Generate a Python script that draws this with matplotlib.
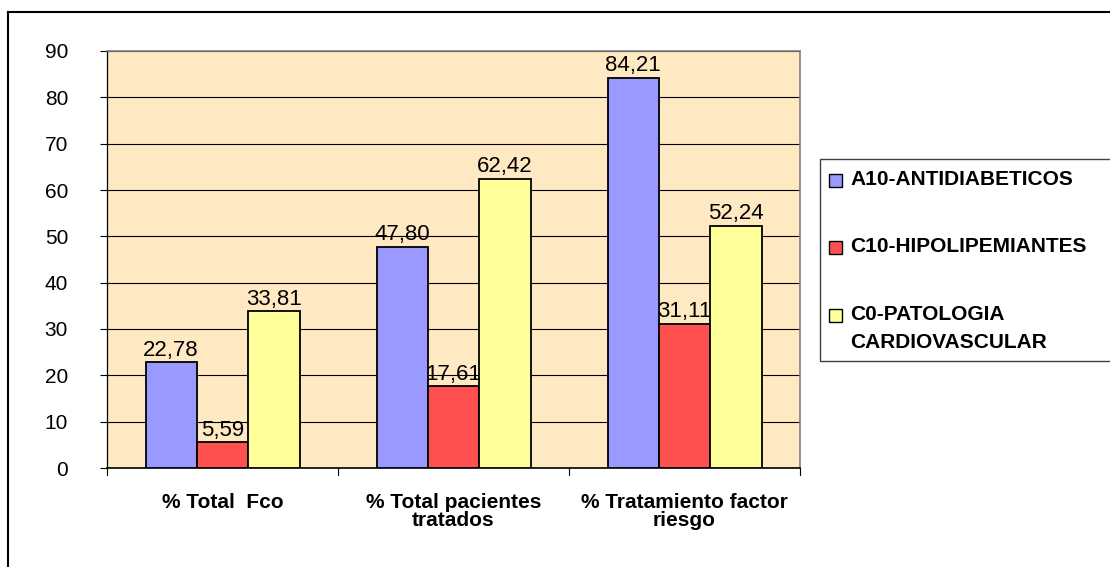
import matplotlib.pyplot as plt
import numpy as np
from matplotlib.lines import Line2D
from matplotlib.patches import Rectangle

plt.rcParams['font.family'] = ['Liberation Sans', 'DejaVu Sans']

categories = ['% Total  Fco', '% Total pacientes\ntratados', '% Tratamiento factor\nriesgo']
series_names = ['A10-ANTIDIABETICOS', 'C10-HIPOLIPEMIANTES', 'C0-PATOLOGIA\nCARDIOVASCULAR']
a10 = [22.78, 47.80, 84.21]
c10 = [5.59, 17.61, 31.11]
c0 = [33.81, 62.42, 52.24]
colors = ['#9999FF', '#FF5050', '#FFFF99']

W, H = 1110, 567
fig = plt.figure(figsize=(W / 100, H / 100), dpi=100)
ax = fig.add_axes([107 / W, 1 - 468 / H, (800 - 107) / W, (468 - 51) / H])
ax.set_facecolor('#FFE9C2')

x = np.arange(len(categories))
w = 1 / 4.5
for i, (vals, col) in enumerate(zip([a10, c10, c0], colors)):
    bars = ax.bar(x + (i - 1) * w, vals, w, color=col, edgecolor='black', linewidth=1.3, zorder=3)
    for b, v in zip(bars, vals):
        ax.text(b.get_x() + b.get_width() / 2, v + 1.4, f'{v:.2f}'.replace('.', ','),
                ha='center', va='baseline', fontsize=16, zorder=4)

ax.set_xlim(-0.5, len(categories) - 0.5)
ax.set_ylim(0, 90)
ax.set_yticks(range(0, 91, 10))
ax.yaxis.grid(True, color='black', linewidth=0.8, zorder=0)
ax.tick_params(axis='y', labelsize=15, length=5, width=0.8, pad=23)
ax.set_xticks(x)
ax.set_xticklabels(categories, fontsize=15, fontweight='bold', linespacing=0.95)
ax.tick_params(axis='x', length=0, pad=18)
for xb in np.arange(-0.5, len(categories) + 0.5, 1):
    ax.plot([xb, xb], [0, -0.017], color='black', linewidth=0.8,
            transform=ax.get_xaxis_transform(), clip_on=False)

for s in ['top', 'right']:
    ax.spines[s].set_color('#808080')
    ax.spines[s].set_linewidth(1.2)
ax.spines['left'].set_linewidth(0.9)
ax.spines['bottom'].set_linewidth(1.2)


def px(xp, yp):
    return xp / W, 1 - yp / H


# legend box drawn by hand so the wrapped entry keeps its key on the first line
fig.add_artist(Rectangle(px(820, 361), 300 / W, (361 - 159) / H, transform=fig.transFigure,
                         facecolor='white', edgecolor='#404040', linewidth=1, zorder=5))
baselines = [185, 252, 320]
for name, col, yb in zip(series_names, colors, baselines):
    fig.add_artist(Rectangle(px(829, yb + 2), 13 / W, 13 / H, transform=fig.transFigure,
                             facecolor=col, edgecolor='black', linewidth=1, zorder=6))
    for k, line in enumerate(name.split('\n')):
        tx, ty = px(850, yb + 28 * k)
        fig.text(tx, ty, line, ha='left', va='baseline', fontsize=15, fontweight='bold', zorder=7)

# outer chart border
fig.add_artist(Line2D([8 / W, 8 / W], [0, 1 - 12 / H], color='black', linewidth=1.5,
                      transform=fig.transFigure))
fig.add_artist(Line2D([8 / W, 1], [1 - 12 / H, 1 - 12 / H], color='black', linewidth=1.5,
                      transform=fig.transFigure))

fig.savefig('out.png', dpi=100)
